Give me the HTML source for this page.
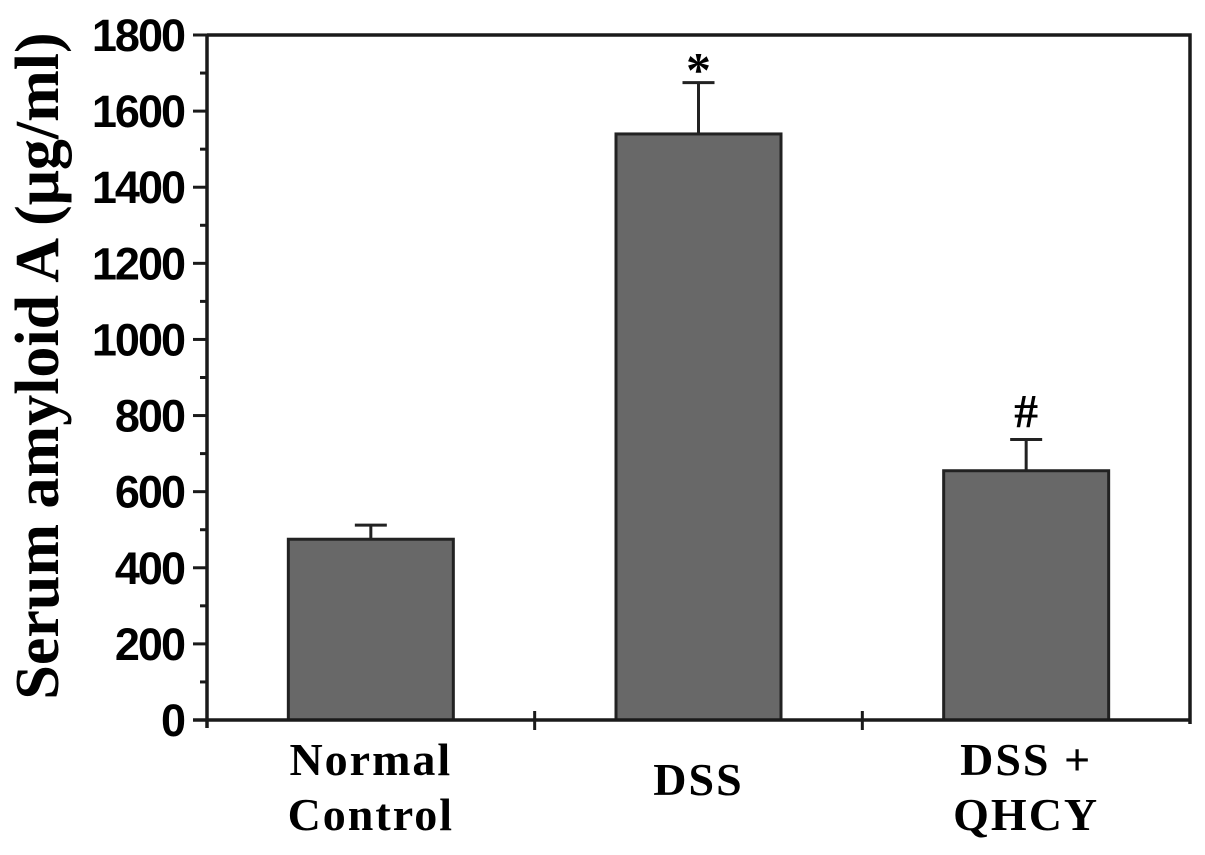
<!DOCTYPE html>
<html><head><meta charset="utf-8"><style>
html,body{margin:0;padding:0;background:#fff;}
svg{display:block;}
</style></head><body>
<svg id="chart" width="1205" height="855" viewBox="0 0 1205 855" xmlns="http://www.w3.org/2000/svg">
<g id="g"></g>
</svg>
<script>
const categories = [["Normal","Control"],["DSS"],["DSS +","QHCY"]];
const values = [475, 1540, 655];
const errors = [37, 135, 82];
const marks = ["", "*", "#"];
const yTicks = [0,200,400,600,800,1000,1200,1400,1600,1800];

const NS="http://www.w3.org/2000/svg";
const g=document.getElementById('g');
const X0=207, X1=1190, Y0=720, Y1=35, YMAX=1800;
const y=v=>Y0-(v/YMAX)*(Y0-Y1);
const band=(X1-X0)/categories.length;
const cx=i=>X0+band*(i+0.5);
const BW=165;
function el(t,a,p){const e=document.createElementNS(NS,t);for(const k in a)e.setAttribute(k,a[k]);(p||g).appendChild(e);return e;}

values.forEach((v,i)=>{
  const b=el('rect',{x:cx(i)-BW/2,y:y(v),width:BW,height:Y0-y(v),fill:'#686868',stroke:'#222','stroke-width':3});
  
  
  const eb=el('path',{d:`M${cx(i)} ${y(v)} V${y(v+errors[i])} M${cx(i)-16} ${y(v+errors[i])} H${cx(i)+16}`,stroke:'#222','stroke-width':3,fill:'none'});
  
  
  if(marks[i]){
    const m=el('text',{x:cx(i),y:y(v+errors[i])-(marks[i]=='*'?-4:12),'text-anchor':'middle','font-family':'Liberation Serif, serif','font-weight':'bold','font-size':marks[i]=='*'?50:48});
    m.textContent=marks[i];
    
    
  }
});
const fr=el('path',{d:`M${X0} ${Y1} H${X1} V${Y0+4} M${X0} ${Y1} V${Y0+8} M${X0-14} ${Y0} H${X1}`,stroke:'#1a1a1a','stroke-width':3.5,fill:'none'});


for(let v=0;v<=YMAX;v+=100){
  const major=v%200===0;
  const t=el('line',{x1:X0-(major?14:7),x2:X0,y1:y(v),y2:y(v),stroke:'#1a1a1a','stroke-width':3});
  
  
}
yTicks.forEach(v=>{
  const t=el('text',{x:184,y:y(v)+16,'text-anchor':'end','font-family':'Liberation Sans, sans-serif','font-weight':'bold','font-size':45,'letter-spacing':-2});
  t.textContent=v;
  
  
});
for(let i=1;i<categories.length;i++){
  const xx=X0+band*i;
  const t=el('line',{x1:xx,x2:xx,y1:Y0-9,y2:Y0+10,stroke:'#1a1a1a','stroke-width':3});
  
  
}
categories.forEach((lines,i)=>{
  lines.forEach((s,j)=>{
    const ty = lines.length===1 ? 795 : 775+j*55;
    const t=el('text',{x:cx(i),y:ty,'text-anchor':'middle','font-family':'Liberation Serif, serif','font-weight':'bold','font-size':46,'letter-spacing':2});
    t.textContent=s;
    
    
  });
});
const yt=el('text',{x:0,y:0,transform:'translate(58,366) rotate(-90)','text-anchor':'middle','font-family':'Liberation Serif, serif','font-weight':'bold','font-size':62});
yt.textContent='Serum amyloid A (μg/ml)';


</script>
</body></html>
